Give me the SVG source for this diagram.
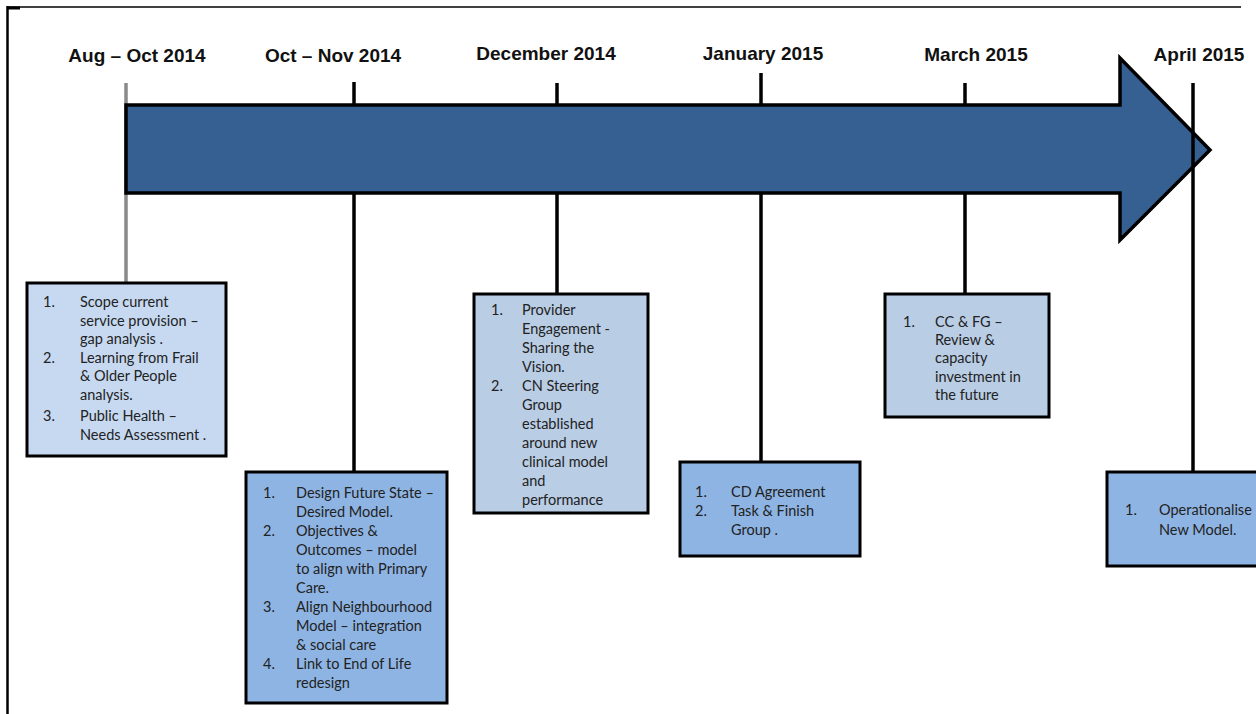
<svg xmlns="http://www.w3.org/2000/svg" width="1256" height="714" viewBox="0 0 1256 714">
<style>
.date{font-family:"Liberation Sans",Arial,sans-serif;font-weight:bold;font-size:19px;fill:#111;text-anchor:middle}
.t{font-family:Lato,"Liberation Sans",sans-serif;font-size:14.5px;fill:#222}
.box{stroke:#000;stroke-width:3}
.b1{fill:#c6d9f1}
.b2{fill:#8eb4e3}
.b3{fill:#b9cde5}
.ln{stroke:#000;stroke-width:3.5}
</style>
<rect width="1256" height="714" fill="#fff"/>
<g id="frame">
<line x1="7" y1="7" x2="1241" y2="7" stroke="#000" stroke-width="1.5"/>
<line x1="7.5" y1="6" x2="7.5" y2="714" stroke="#000" stroke-width="2.5"/>
<line x1="7" y1="8" x2="20" y2="8" stroke="#000" stroke-width="3"/>
</g>
<g id="connectors">
<line x1="126" y1="83" x2="126" y2="283" stroke="#8a8a8a" stroke-width="3.5"/>
<line class="ln" x1="354" y1="82" x2="354" y2="472"/>
<line class="ln" x1="557" y1="83" x2="557" y2="294"/>
<line class="ln" x1="761" y1="73" x2="761" y2="462"/>
<line class="ln" x1="965" y1="83" x2="965" y2="294"/>
</g>
<g id="arrow">
<polygon points="126,105 1120,105 1120,58 1210,150 1120,240 1120,193 126,193" fill="#376092" stroke="#000" stroke-width="3.5" stroke-linejoin="miter"/>
</g>
<g id="connectors-top">
<line class="ln" x1="1193" y1="83" x2="1193" y2="472"/>
</g>
<g id="labels">
<text class="date" x="137" y="62">Aug – Oct 2014</text>
<text class="date" x="333" y="62">Oct – Nov 2014</text>
<text class="date" x="546" y="60">December 2014</text>
<text class="date" x="763" y="60">January 2015</text>
<text class="date" x="976" y="61">March 2015</text>
<text class="date" x="1199" y="61">April 2015</text>
</g>
<g id="node-aug-oct">
<rect class="box b1" x="27" y="283" width="199" height="173"/>
<text class="t"><tspan x="43" y="307">1.</tspan><tspan x="80" y="307">Scope current</tspan><tspan x="80" y="326">service provision –</tspan><tspan x="80" y="344">gap analysis .</tspan><tspan x="43" y="363">2.</tspan><tspan x="80" y="363">Learning from Frail</tspan><tspan x="80" y="381">&amp; Older People</tspan><tspan x="80" y="400">analysis.</tspan><tspan x="43" y="421">3.</tspan><tspan x="80" y="421">Public Health –</tspan><tspan x="80" y="440">Needs Assessment .</tspan></text>
</g>
<g id="node-oct-nov">
<rect class="box b2" x="246" y="472" width="201" height="231"/>
<text class="t"><tspan x="263" y="498">1.</tspan><tspan x="296" y="498">Design Future State –</tspan><tspan x="296" y="517">Desired Model.</tspan><tspan x="263" y="536">2.</tspan><tspan x="296" y="536">Objectives &amp;</tspan><tspan x="296" y="555">Outcomes – model</tspan><tspan x="296" y="574">to align with Primary</tspan><tspan x="296" y="593">Care.</tspan><tspan x="263" y="612">3.</tspan><tspan x="296" y="612">Align Neighbourhood</tspan><tspan x="296" y="631">Model – integration</tspan><tspan x="296" y="650">&amp; social care</tspan><tspan x="263" y="669">4.</tspan><tspan x="296" y="669">Link to End of Life</tspan><tspan x="296" y="688">redesign</tspan></text>
</g>
<g id="node-december">
<rect class="box b3" x="474" y="294" width="174" height="219"/>
<text class="t"><tspan x="491" y="315">1.</tspan><tspan x="522" y="315">Provider</tspan><tspan x="522" y="334">Engagement  -</tspan><tspan x="522" y="353">Sharing the</tspan><tspan x="522" y="372">Vision.</tspan><tspan x="491" y="391">2.</tspan><tspan x="522" y="391">CN Steering</tspan><tspan x="522" y="410">Group</tspan><tspan x="522" y="429">established</tspan><tspan x="522" y="448">around new</tspan><tspan x="522" y="467">clinical model</tspan><tspan x="522" y="486">and</tspan><tspan x="522" y="505">performance</tspan></text>
</g>
<g id="node-january">
<rect class="box b2" x="680" y="462" width="180" height="94"/>
<text class="t"><tspan x="695" y="497">1.</tspan><tspan x="731" y="497">CD Agreement</tspan><tspan x="695" y="516">2.</tspan><tspan x="731" y="516">Task &amp; Finish</tspan><tspan x="731" y="535">Group .</tspan></text>
</g>
<g id="node-march">
<rect class="box b3" x="885" y="294" width="164" height="123"/>
<text class="t"><tspan x="903" y="327">1.</tspan><tspan x="935" y="327">CC &amp; FG –</tspan><tspan x="935" y="345">Review &amp;</tspan><tspan x="935" y="363">capacity</tspan><tspan x="935" y="382">investment in</tspan><tspan x="935" y="400">the future</tspan></text>
</g>
<g id="node-april">
<rect class="box b2" x="1107" y="472" width="160" height="94"/>
<text class="t"><tspan x="1125" y="515">1.</tspan><tspan x="1159" y="515">Operationalise</tspan><tspan x="1159" y="535">New Model.</tspan></text>
</g>
</svg>
